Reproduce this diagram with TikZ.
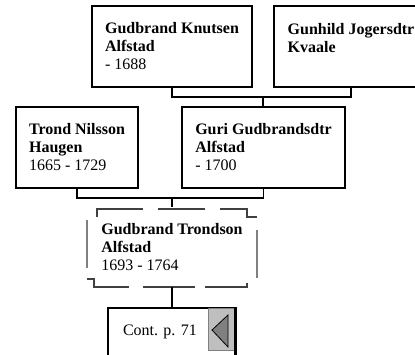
\documentclass[tikz,border=0pt]{standalone}
\usepackage{fontspec}
\setmainfont{Liberation Serif}
\frenchspacing
\tikzset{
  person/.style={draw, line width=1.8pt, rectangle, align=left, inner xsep=13pt,
    minimum height=81pt, font=\fontsize{16}{18}\selectfont},
  link/.style={line width=1.8pt},
  frameline/.style={line width=1.3pt, color=black!75},
  frameside/.style={line width=1.3pt, color=gray},
}
\begin{document}
\begin{tikzpicture}[x=1pt,y=-1pt]
   \useasboundingbox (0,0) rectangle (415,355);

   % grandparents
   \node[person] (knutsen) at (172,46.5) {\textbf{Gudbrand Knutsen}\\\textbf{Alfstad}\\- 1688};
   \node[person, inner xsep=14pt] (gunhild) at (351,46.5) {\textbf{Gunhild Jogersdtr}\\\textbf{Kvaale}\\~};

   % parents
   \node[person] (trond) at (77,147.5) {\textbf{Trond Nilsson}\\\textbf{Haugen}\\1665 - 1729};
   \node[person] (guri) at (263.5,147.5) {\textbf{Guri Gudbrandsdtr}\\\textbf{Alfstad}\\- 1700};

   % the person himself
   \node[person, draw=none, minimum width=170pt, minimum height=78pt] (trondson) at (172,247)
      {\textbf{Gudbrand Trondson}\\\textbf{Alfstad}\\1693 - 1764};
   \draw[frameline, dash pattern=on 54pt off 15pt on 47pt off 15pt on 60pt]
      (97,217) -- (97,209) -- (247,209) -- (247,217) -- (257,217);
   \draw[frameline, dash pattern=on 50pt off 14pt on 52pt off 10pt on 60pt]
      (87,279) -- (94,279) -- (94,287) -- (247,287) -- (247,283);
   \draw[frameside] (87,220) -- (87,268);
   \draw[frameside] (257,230) -- (257,278);

   % continuation
   \node[person, minimum width=128pt, minimum height=52pt, text width=98pt, inner xsep=15pt,
      text height=11pt, text depth=9pt, font=\fontsize{16}{18}\selectfont] (cont) at (172,334) {Cont. p. 71};
   \filldraw[fill=gray!50, draw=gray] (208,308) rectangle (235,350);
   \filldraw[fill=gray, draw=black, line width=.8pt] (212,330) -- (228,315) -- (228,347) -- cycle;
   \draw[line width=2.5pt] (235,308) -- (235,356);

   % connectors
   \coordinate (top) at (263,97);
   \draw[link] (knutsen.south) |- (top) -| (gunhild.south);
   \draw[link] (top) -- (top |- guri.north);
   \coordinate (mid) at (172,198);
   \draw[link] (trond.south) |- (mid) -| (guri.south);
   \draw[link] (mid) -- (mid |- trondson.north);
   \draw[link] (trondson.south) -- (cont.north);

\end{tikzpicture}
\end{document}
